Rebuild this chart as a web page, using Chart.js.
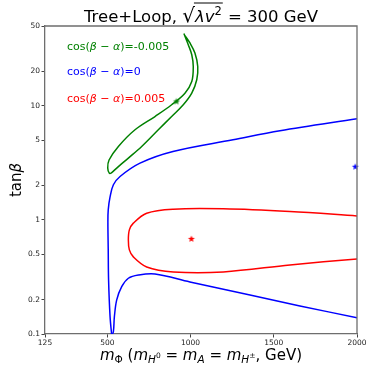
<!DOCTYPE html>
<html><head><meta charset="utf-8">
<script src="https://cdn.jsdelivr.net/npm/chart.js@4/dist/chart.umd.min.js"></script>
<style>html,body{margin:0;padding:0;background:#fff}#w{width:374px;height:374px}</style>
</head><body><div id="w"><canvas id="c" width="374" height="374"></canvas></div>
<script>
// ---- data (m_Phi in GeV, tan beta) ----
const xTicks = [125, 500, 1000, 1500, 2000];
const yTicks = [0.1, 0.2, 0.5, 1, 2, 5, 10, 20, 50];

// cos(beta-alpha) = -0.005 contour (green)
const greenX = [962, 996, 1026, 1043, 1037, 1007, 956, 886, 806, 706, 626, 566, 526, 512, 502, 510, 566, 666, 786, 886, 966, 1007, 1016, 1007, 986, 966, 960];
const greenY = [42.0, 35.5, 29.0, 22.1, 16.9, 12.9, 10.2, 8.05, 6.16, 4.40, 3.48, 2.93, 2.60, 2.56, 2.85, 3.35, 4.40, 6.16, 8.05, 10.2, 12.9, 16.3, 22.1, 28.0, 34.3, 40.6, 43.0];
// cos(beta-alpha) = 0 contour (blue), two branches from the cusp
const blueUpX = [526, 516, 507, 505, 503, 505, 516, 536, 576, 696, 894, 1255, 1537, 2000];
const blueUpY = [0.097, 0.142, 0.300, 0.546, 0.941, 1.224, 1.59, 2.03, 2.40, 3.14, 3.97, 5.03, 6.04, 7.69];
const blueLoX = [526, 536, 542, 556, 586, 626, 686, 786, 996, 1357, 1657, 2000];
const blueLoY = [0.097, 0.105, 0.142, 0.199, 0.260, 0.308, 0.329, 0.336, 0.286, 0.220, 0.176, 0.139];
// cos(beta-alpha) = 0.005 contour (red)
const redX = [2000, 1597, 1197, 896, 736, 656, 632, 626, 632, 656, 736, 896, 1197, 1597, 2000];
const redY = [1.084, 1.183, 1.249, 1.241, 1.145, 0.936, 0.817, 0.668, 0.546, 0.474, 0.387, 0.350, 0.350, 0.403, 0.455];
// best-fit stars
const greenStar = [915, 10.9];
const redStar = [1005, 0.68];
const blueStar = [1990, 2.92];

const GREEN = '#008000', BLUE = '#0000ff', RED = '#ff0000';

function pts(xs, ys){ return xs.map((x,i)=>({x:x, y:ys[i]})); }
function starImg(color, r){
  const s = Math.ceil(r*2+2), c = document.createElement('canvas');
  c.width = c.height = s; const g = c.getContext('2d');
  g.fillStyle = color; g.beginPath();
  for(let i=0;i<10;i++){ const a=-Math.PI/2+i*Math.PI/5, rr=(i%2)?r*0.42:r; g.lineTo(s/2+rr*Math.cos(a), s/2+rr*Math.sin(a)); }
  g.closePath(); g.fill(); return c;
}
function line(data, color){ return {data, borderColor:color, backgroundColor:color, showLine:true, pointRadius:0, borderWidth:1.5, tension:0.35, fill:false}; }
function star(p, color){ return {data:[{x:p[0],y:p[1]}], pointStyle:starImg(color,3.6), pointRadius:4, showLine:false, clip:false}; }

const FONT = '"DejaVu Sans"';
function fnt(r){ return (r.it?'italic ':'') + r.s + 'px ' + FONT; }
function runsWidth(ctx, runs){ let w=0; for(const r of runs){ ctx.font=fnt(r); r.w=ctx.measureText(r.t).width+(r.g||0); w+=r.w; } return w; }
function drawRuns(ctx, runs, x, y, align, color){
  const W = runsWidth(ctx, runs); let cx = align==='center' ? x-W/2 : x;
  ctx.fillStyle = color; ctx.textBaseline='alphabetic'; ctx.textAlign='left';
  for(const r of runs){ ctx.font=fnt(r); r.x0=cx; ctx.fillText(r.t, cx+(r.pre||0), y+(r.dy||0)); cx+=r.w; r.x1=cx; }
  return runs;
}

const textPlugin = {
  id:'texts',
  afterDraw(chart){
    const ctx = chart.ctx, a = chart.chartArea;
    ctx.save();
    // top & right spines
    ctx.strokeStyle='#6e6e6e'; ctx.lineWidth=1.3;
    ctx.beginPath(); ctx.moveTo(a.left,a.top); ctx.lineTo(a.right,a.top); ctx.lineTo(a.right,a.bottom); ctx.stroke();
    const cxm = (a.left+a.right)/2;
    // title
    const t = drawRuns(ctx, [
      {t:'Tree+Loop, ', s:16.5},
      {t:'\u221A', s:20},
      {t:'\u03BBv', s:16.5, it:true},
      {t:'2', s:11.5, dy:-7, g:1},
      {t:' = 300 GeV', s:16.5}
    ], cxm, 21.5, 'center', '#000');
    ctx.strokeStyle='#000'; ctx.lineWidth=1;
    ctx.beginPath(); ctx.moveTo(t[1].x1-1, 3); ctx.lineTo(t[3].x1, 3); ctx.stroke();
    // legend-like labels
    const leg = (val, y, col) => drawRuns(ctx, [
      {t:'cos(', s:11}, {t:'\u03B2', s:11, it:true}, {t:' \u2212 ', s:11}, {t:'\u03B1', s:11, it:true}, {t:')='+val, s:11}
    ], 67, y, 'left', col);
    leg('-0.005', 49.5, GREEN);
    leg('0', 75, BLUE);
    leg('0.005', 101.5, RED);
    // x label
    drawRuns(ctx, [
      {t:'m', s:15, it:true}, {t:'\u03A6', s:10.5, dy:3},
      {t:' (', s:15},
      {t:'m', s:15, it:true}, {t:'H', s:10.5, it:true, dy:3}, {t:'0', s:7.5, dy:-2},
      {t:' = ', s:15},
      {t:'m', s:15, it:true}, {t:'A', s:10.5, it:true, dy:3},
      {t:' = ', s:15},
      {t:'m', s:15, it:true}, {t:'H', s:10.5, it:true, dy:3}, {t:'\u00B1', s:7.5, dy:-2},
      {t:', GeV)', s:15}
    ], cxm, 360, 'center', '#000');
    // y label
    ctx.translate(21, (a.top+a.bottom)/2); ctx.rotate(-Math.PI/2);
    drawRuns(ctx, [{t:'tan', s:15}, {t:'\u03B2', s:15, it:true}], 0, 0, 'center', '#000');
    ctx.restore();
  }
};

new Chart(document.getElementById('c'), {
  type:'scatter',
  data:{ datasets:[
    line(pts(greenX, greenY), GREEN),
    line(pts(blueUpX, blueUpY), BLUE),
    line(pts(blueLoX, blueLoY), BLUE),
    line(pts(redX, redY), RED),
    star(greenStar, GREEN), star(redStar, RED), star(blueStar, BLUE)
  ]},
  options:{
    responsive:false, animation:false, devicePixelRatio:1,
    layout:{ padding:{ top:26, right:17, left:0, bottom:0 } },
    plugins:{ legend:{display:false}, tooltip:{enabled:false}, title:{display:false} },
    scales:{
      x:{ type:'linear', min:125, max:2000,
        afterBuildTicks(s){ s.ticks = xTicks.map(v=>({value:v})); },
        afterFit(s){ s.height = 40; },
        ticks:{ font:{family:FONT, size:7.5}, color:'#222', padding:1, maxRotation:0, autoSkip:false, callback:v=>String(v) },
        grid:{ drawOnChartArea:false, drawTicks:true, tickLength:3.5, color:'#444' },
        border:{ display:true, color:'#6e6e6e', width:1.3 } },
      y:{ type:'logarithmic', min:0.1, max:50,
        afterBuildTicks(s){ s.ticks = yTicks.map(v=>({value:v})); },
        afterFit(s){ s.width = 45; },
        ticks:{ font:{family:FONT, size:7.5}, color:'#222', padding:1.5, autoSkip:false, callback:v=>String(v) },
        grid:{ drawOnChartArea:false, drawTicks:true, tickLength:3.5, color:'#444' },
        border:{ display:true, color:'#6e6e6e', width:1.3 } }
    }
  },
  plugins:[textPlugin]
});
</script></body></html>
